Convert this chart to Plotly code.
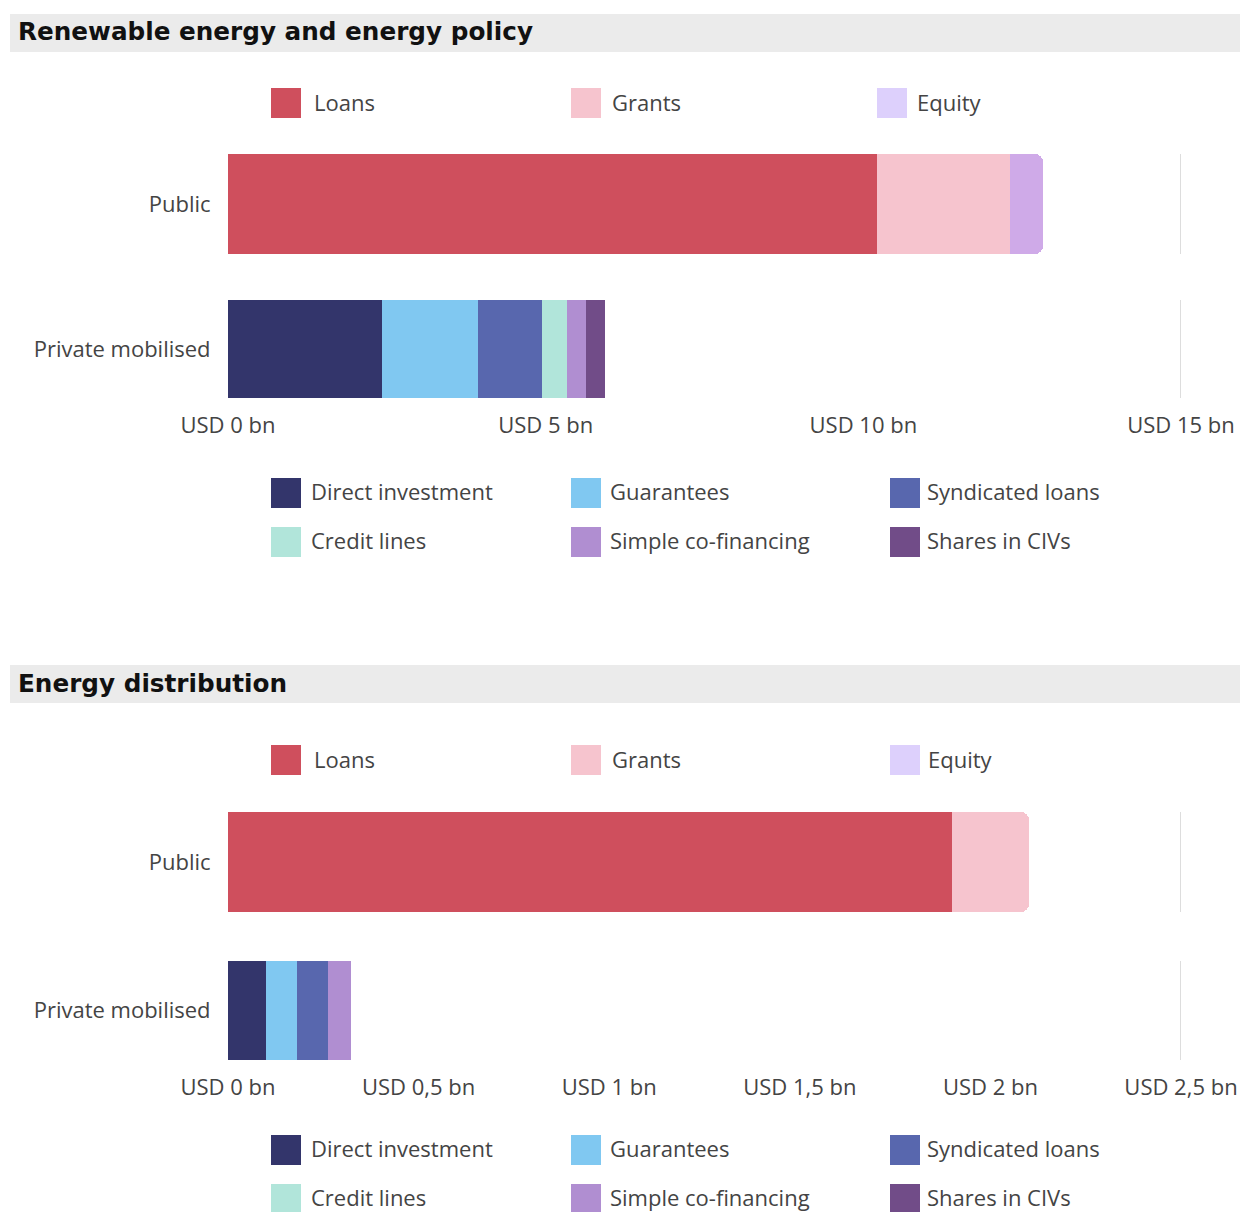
import plotly.graph_objects as go

# ---- data -------------------------------------------------------------
row_labels = ["Public", "Private mobilised"]

public_types = ["Loans", "Grants", "Equity"]
private_types = ["Direct investment", "Guarantees", "Syndicated loans",
                 "Credit lines", "Simple co-financing", "Shares in CIVs"]

# USD bn
renewable_public = [10.21, 2.10, 0.51]
renewable_private = [2.42, 1.51, 1.01, 0.39, 0.31, 0.29]

distribution_public = [1.90, 0.20, 0.0]
distribution_private = [0.10, 0.081, 0.081, 0.0, 0.060, 0.0]

renewable_ticks = [0, 5, 10, 15]
renewable_ticktext = ["USD 0 bn", "USD 5 bn", "USD 10 bn", "USD 15 bn"]
distribution_ticks = [0, 0.5, 1, 1.5, 2, 2.5]
distribution_ticktext = ["USD 0 bn", "USD 0,5 bn", "USD 1 bn", "USD 1,5 bn",
                         "USD 2 bn", "USD 2,5 bn"]

panel_titles = ["Renewable energy and energy policy", "Energy distribution"]

# ---- styling ----------------------------------------------------------
public_colors = ["#cf4f5d", "#f6c4ce", "#cfaae8"]
public_legend_colors = ["#cf4f5d", "#f6c4ce", "#ddd0fc"]
private_colors = ["#33356b", "#80c8f1", "#5867ae", "#b1e5da", "#b08ed1", "#714c88"]

W, H = 1240, 1212
FONT = "Open Sans"
TITLE_FONT = "DejaVu Sans"
TXT = "#444444"


def fx(px):
    return px / W


def fy(py):
    return 1 - py / H


PLOT_X0, PLOT_X1 = 228, 1181

panels = [
    dict(title=panel_titles[0], public=renewable_public, private=renewable_private,
         rng=[0, 15], ticks=renewable_ticks, ticktext=renewable_ticktext,
         title_band=(14, 52), top_y=103, top_cols=[(271, 314), (571, 612), (877, 917)],
         pub_band=(154, 254), priv_band=(300, 398),
         bottom_rows=[493, 542], bottom_cols=[(271, 40), (571, 39), (890, 37)]),
    dict(title=panel_titles[1], public=distribution_public, private=distribution_private,
         rng=[0, 2.5], ticks=distribution_ticks, ticktext=distribution_ticktext,
         title_band=(665, 703), top_y=760, top_cols=[(271, 314), (571, 612), (890, 928)],
         pub_band=(812, 912), priv_band=(961, 1060),
         bottom_rows=[1150, 1199], bottom_cols=[(271, 40), (571, 39), (890, 37)]),
]

fig = go.Figure()
shapes = []
annotations = []
layout_axes = {}

for p, pan in enumerate(panels):
    for r, (row_name, vals, colors, band) in enumerate([
        (row_labels[0], pan["public"], public_colors, pan["pub_band"]),
        (row_labels[1], pan["private"], private_colors, pan["priv_band"]),
    ]):
        k = p * 2 + r + 1
        xa = "x" if k == 1 else f"x{k}"
        ya = "y" if k == 1 else f"y{k}"
        names = public_types if r == 0 else private_types
        for name, v, c in zip(names, vals, colors):
            bar = go.Bar(x=[v], y=[row_name], orientation="h", name=name,
                         marker=dict(color=c, line=dict(width=0)),
                         xaxis=xa, yaxis=ya, showlegend=False,
                         hovertemplate=f"{name}: %{{x}} bn<extra></extra>")
            if r == 0:
                bar.marker.cornerradius = 8
            fig.add_trace(bar)

        xkey = "xaxis" if k == 1 else f"xaxis{k}"
        ykey = "yaxis" if k == 1 else f"yaxis{k}"
        layout_axes[xkey] = dict(
            domain=[fx(PLOT_X0), fx(PLOT_X1)], anchor=ya, range=pan["rng"],
            tickvals=pan["ticks"], ticktext=pan["ticktext"],
            showticklabels=(r == 1), showgrid=False, zeroline=False, showline=False,
            ticks="outside", ticklen=8, tickcolor="rgba(0,0,0,0)",
            tickfont=dict(size=22, color=TXT, family=FONT), fixedrange=True,
            automargin=False,
        )
        layout_axes[ykey] = dict(
            domain=[fy(band[1]), fy(band[0])], anchor=xa, type="category",
            range=[-0.5, 0.5], showgrid=False, zeroline=False, showline=False,
            ticks="outside", ticklen=12, tickcolor="rgba(0,0,0,0)",
            tickfont=dict(size=22, color=TXT, family=FONT), fixedrange=True,
            automargin=False,
        )
        # right-hand boundary line
        shapes.append(dict(type="line", xref=xa, yref=f"{ya} domain",
                           x0=pan["rng"][1], x1=pan["rng"][1], y0=0, y1=1,
                           line=dict(color="#d2d2d2", width=1.5), layer="below"))

    # title band
    t0, t1 = pan["title_band"]
    shapes.append(dict(type="rect", xref="paper", yref="paper",
                       x0=fx(10), x1=1, y0=fy(t1), y1=fy(t0),
                       fillcolor="#ebebeb", line=dict(width=0), layer="below"))
    annotations.append(dict(text=f"<b>{pan['title']}</b>", xref="paper", yref="paper",
                            x=fx(16), y=fy((t0 + t1) / 2 - 1), xanchor="left", yanchor="middle",
                            showarrow=False,
                            font=dict(size=24.7, color="#111", family=TITLE_FONT)))

    # legend for public instruments
    for (sx, tx), name, c in zip(pan["top_cols"], public_types, public_legend_colors):
        cy = pan["top_y"]
        shapes.append(dict(type="rect", xref="paper", yref="paper",
                           x0=fx(sx), x1=fx(sx + 30), y0=fy(cy + 15), y1=fy(cy - 15),
                           fillcolor=c, line=dict(width=0)))
        annotations.append(dict(text=name, xref="paper", yref="paper",
                                x=fx(tx - 2), y=fy(cy - 1), xanchor="left", yanchor="middle",
                                showarrow=False, font=dict(size=22, color=TXT, family=FONT)))

    # legend for private mobilisation mechanisms (2 rows x 3 columns)
    for i, (name, c) in enumerate(zip(private_types, private_colors)):
        row, col = divmod(i, 3)
        cy = pan["bottom_rows"][row]
        sx, gap = pan["bottom_cols"][col]
        shapes.append(dict(type="rect", xref="paper", yref="paper",
                           x0=fx(sx), x1=fx(sx + 30), y0=fy(cy + 15), y1=fy(cy - 15),
                           fillcolor=c, line=dict(width=0)))
        annotations.append(dict(text=name, xref="paper", yref="paper",
                                x=fx(sx + gap - 2), y=fy(cy - 2), xanchor="left",
                                yanchor="middle", showarrow=False,
                                font=dict(size=22, color=TXT, family=FONT)))

fig.update_layout(
    width=W, height=H,
    margin=dict(l=0, r=0, t=0, b=0, autoexpand=False),
    paper_bgcolor="white", plot_bgcolor="white",
    barmode="stack", bargap=0,
    font=dict(family=FONT, color=TXT),
    shapes=shapes, annotations=annotations,
    showlegend=False,
    **layout_axes,
)

fig.write_html("out.html")
